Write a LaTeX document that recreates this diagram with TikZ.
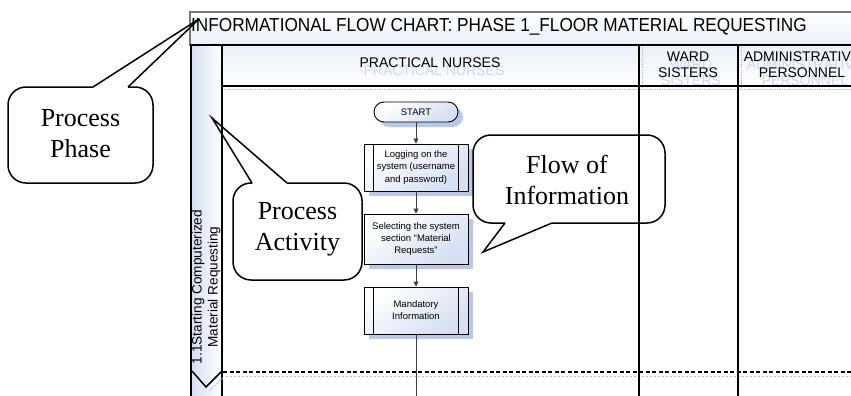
\documentclass[tikz,border=0pt]{standalone}
\usepackage{fontspec}
\setmainfont{Liberation Sans}
\newfontfamily\calloutfont{Liberation Serif}
\usetikzlibrary{arrows.meta,shadows}

\definecolor{paleblue}{RGB}{212,223,243}
\definecolor{faintblue}{RGB}{234,239,249}
\definecolor{shadowblue}{RGB}{176,195,232}
\definecolor{ghostblue}{RGB}{206,218,240}
\definecolor{framegray}{RGB}{120,120,120}
\definecolor{linegray}{RGB}{60,60,60}

\tikzset{
  flowbox/.style={draw=black, line width=0.9, minimum width=104, minimum height=47,
    inner sep=0, align=center, font=\fontsize{9.5}{12.2}\selectfont,
    top color=white, bottom color=paleblue, shading angle=35,
    drop shadow={shadow xshift=5pt, shadow yshift=-5pt, fill=shadowblue, opacity=0.9}},
  terminal/.style={flowbox, minimum width=84, minimum height=20, rounded corners=10},
  flowarrow/.style={draw=linegray, line width=0.9, -{Triangle[length=5pt,width=5pt]}},
  flowline/.style={draw=linegray, line width=0.9},
  lanehead/.style={align=center, font=\fontsize{14}{16}\selectfont},
  ghosthead/.style={lanehead, text=ghostblue},
  lanerule/.style={line width=2.2, black},
  callout/.style={draw=black, line width=1.5, rounded corners=18},
  callouttail/.style={draw=black, line width=1.5, line join=miter},
  callouttext/.style={align=center, font=\calloutfont\fontsize{26}{31}\selectfont}
}

\begin{document}
\begin{tikzpicture}[x=1pt,y=-1pt]
\useasboundingbox (0,0) rectangle (851,396);
\clip (0,0) rectangle (851,396);
\fill[white] (0,0) rectangle (851,396);

% title band
\path[draw=framegray, line width=1.3, top color=white, bottom color=faintblue]
  (190,12) rectangle (870,45);
\node[anchor=west, font=\fontsize{18.8}{20}\selectfont, inner sep=0] (title)
  at (191,27) {\scalebox{0.915}[1]{INFORMATIONAL FLOW CHART: PHASE 1\_FLOOR MATERIAL REQUESTING}};

% phase column
\path[left color=paleblue, right color=white] (191,45) rectangle (222,396);

% lane header cells
\path[top color=faintblue, bottom color=white] (222,45) rectangle (639,86);
\path[top color=faintblue, bottom color=white] (639,45) rectangle (738,86);
\path[top color=faintblue, bottom color=white] (738,45) rectangle (870,86);

\begin{scope}
  \clip (222,45) rectangle (639,86);
  \node[ghosthead] at (434,71) {PRACTICAL NURSES};
\end{scope}
\begin{scope}
  \clip (639,45) rectangle (738,86);
  \node[ghosthead] at (691,73) {WARD\\SISTERS};
\end{scope}
\begin{scope}
  \clip (738,45) rectangle (870,86);
  \node[ghosthead] at (805,73) {ADMINISTRATIVE\\PERSONNEL};
\end{scope}

\node[lanehead] (hnurses) at (430,63) {PRACTICAL NURSES};
\node[lanehead] (hsisters) at (688,65) {WARD\\SISTERS};
\node[lanehead] (hadmin) at (802,65) {ADMINISTRATIVE\\PERSONNEL};

% shadow lines of the header and the phase separator
\draw[shadowblue, line width=1.2, dash pattern=on 1.5pt off 1pt] (224,89.5) -- (851,89.5);
\draw[shadowblue, line width=1, dash pattern=on 1.5pt off 1pt] (642,47) -- (642,88);
\draw[shadowblue, line width=1, dash pattern=on 1.5pt off 1pt] (741,47) -- (741,88);
\draw[shadowblue, line width=1, dash pattern=on 2pt off 2pt] (226,376.5) -- (851,376.5);

% frame rules
\draw[line width=1.5, black] (190,45) -- (851,45);
\draw[line width=1.8, black] (222,86) -- (851,86);
\draw[line width=1.6, black] (191,45) -- (191,396);
\draw[lanerule] (222,45) -- (222,396);
\draw[lanerule] (639,45) -- (639,396);
\draw[lanerule] (738,45) -- (738,396);
\draw[line width=1.8, black, dash pattern=on 4pt off 2.5pt] (223,372) -- (851,372);

% phase label with its chevron
\node[rotate=90, align=center, font=\fontsize{13.6}{16}\selectfont, inner sep=0] (phase)
  at (206,287) {1.1Starting Computerized\\Material Requesting};
\draw[shadowblue, line width=1, dash pattern=on 1.5pt off 1pt] (209,391) -- (224,377);
\draw[line width=1.5, black, line join=miter] (192,371) -- (206,387) -- (222,371);

% flow of activities
\node[terminal] (start) at (416,112) {START};
\node[flowbox] (login) at (416,167.5) {Logging on the\\system (username\\and password)};
\node[flowbox, minimum height=50] (select) at (416,239)
  {Selecting the system\\section “Material\\Requests”};
\node[flowbox] (mandatory) at (416,310.5) {Mandatory\\Information};
\coordinate (flowend) at (416,396);

\foreach \b in {login, mandatory} {
  \draw[line width=0.9] ([xshift=10pt]\b.north west) -- ([xshift=10pt]\b.south west);
  \draw[line width=0.9] ([xshift=-10pt]\b.north east) -- ([xshift=-10pt]\b.south east);
}

\draw[flowarrow] (start) -- (login);
\draw[flowarrow] (login) -- (select);
\draw[flowarrow] (select) -- (mandatory);
\draw[flowline] (mandatory) -- (flowend);

% callouts
\node[callouttext] (cphase) at (80.5,134) {Process\\Phase};
\draw[callout] (128,87) -- (153,87) -- (153,183) -- (8,183) -- (8,87) -- (93,87);
\draw[callouttail] (93,87) -- (199,19) -- (128,87);

\node[callouttext] (cactivity) at (297.5,229) {Process\\Activity};
\draw[callout] (287,183) -- (362,183) -- (362,280) -- (233,280) -- (233,183) -- (252,183);
\draw[callouttail] (252,183) -- (212,118) -- (287,183);

\node[callouttext] (cflow) at (567,180) {Flow of\\Information};
\draw[callout] (505,223) -- (473,223) -- (473,135) -- (665,135) -- (665,223) -- (552,223);
\draw[callouttail] (552,223) -- (483,252) -- (505,223);
\end{tikzpicture}
\end{document}
